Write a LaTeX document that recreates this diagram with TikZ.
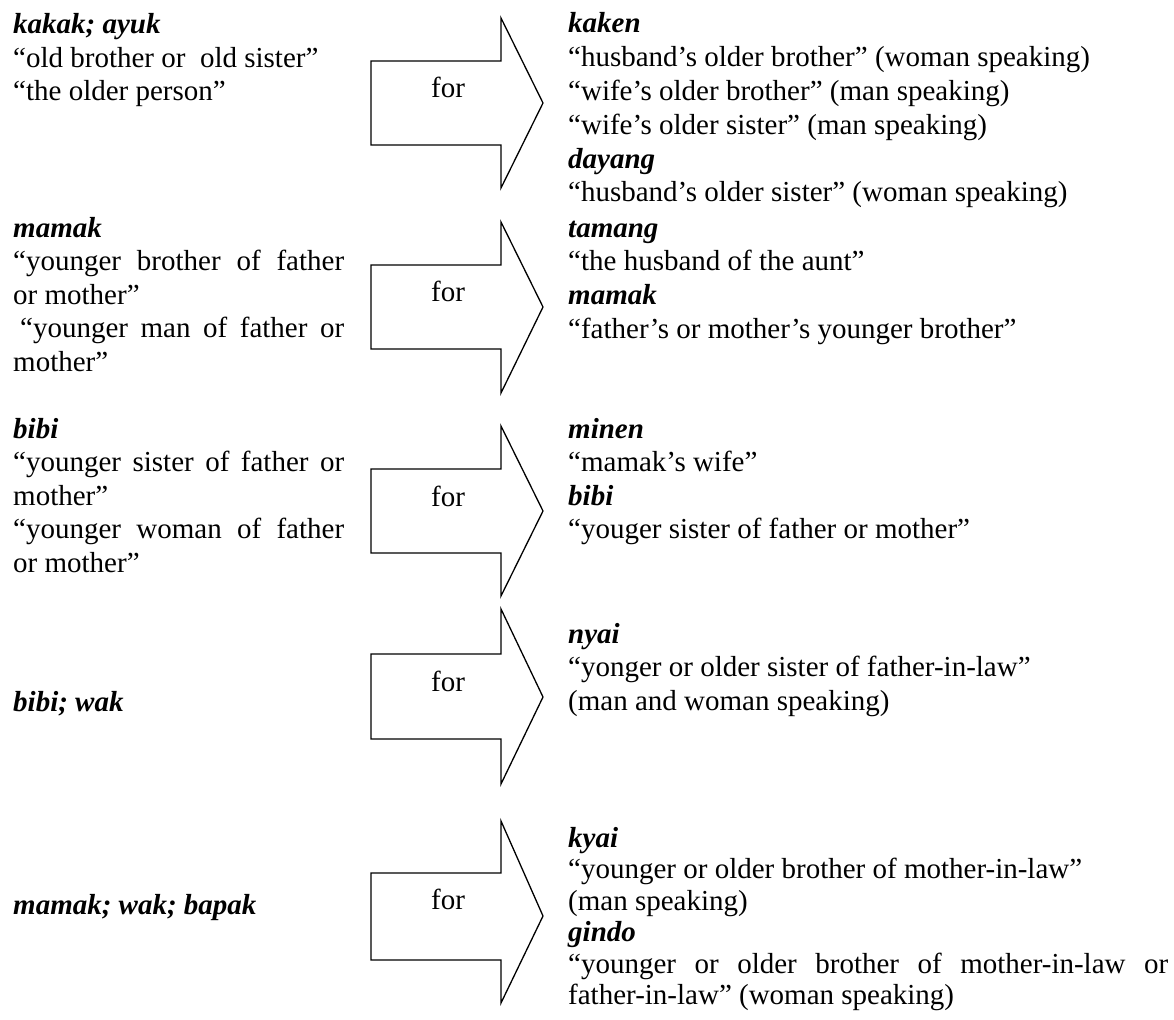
\documentclass[tikz,border=0pt]{standalone}
\usepackage{fontspec}
\setmainfont{Liberation Serif}
\newcommand\bi[1]{\textbf{\textit{#1}}}
\newcommand\J[1]{\makebox[331pt][s]{#1}}
\newcommand\JR[1]{\makebox[600pt][s]{#1}}
% shaft top, shaft bottom, head top, head bottom, tip y
\newcommand\forshape[5]{%
  \draw[arr] (371,#1) -- (501,#1) -- (501,#3) -- (543,#5) -- (501,#4) -- (501,#2) -- (371,#2) -- cycle;}
\begin{document}
\begin{tikzpicture}[x=1pt,y=-1pt,
  txt/.style={anchor=base west, inner sep=0pt, font=\fontsize{29}{33.5}\selectfont},
  forlbl/.style={anchor=center, inner sep=0pt, font=\fontsize{29}{33.5}\selectfont},
  arr/.style={draw=black, line width=1.3pt, line join=miter}]
\useasboundingbox (0,0) rectangle (1174,1019);

% arrows
\forshape{61}{145}{18}{188}{103}
\forshape{265}{349}{222}{393}{307}
\forshape{469}{553}{426}{596}{511}
\forshape{654}{739}{609}{784}{697}
\forshape{873}{960}{821}{1003}{916}

\node[forlbl] (f1) at (448,87) {for};
\node[forlbl] (f2) at (448,291) {for};
\node[forlbl] (f3) at (448,496) {for};
\node[forlbl] (f4) at (448,681) {for};
\node[forlbl] (f5) at (448,899) {for};

% left column
\node[txt] (l1) at (13,34) {\vtop{\baselineskip=33.5pt
  \hbox{\bi{kakak; ayuk}}
  \hbox{“old brother or\ \ old sister”}
  \hbox{“the older person”}}};
\node[txt] (l2) at (13,237) {\vtop{\baselineskip=33.5pt
  \hbox{\bi{mamak}}
  \hbox{\J{“younger brother of father}}
  \hbox{or mother”}
  \hbox{\J{\kern7pt“younger man of father or}}
  \hbox{mother”}}};
\node[txt] (l3) at (13,438) {\vtop{\baselineskip=33.5pt
  \hbox{\bi{bibi}}
  \hbox{\J{“younger sister of father or}}
  \hbox{mother”}
  \hbox{\J{“younger woman of father}}
  \hbox{or mother”}}};
\node[txt] (l4) at (13,711) {\bi{bibi; wak}};
\node[txt] (l5) at (13,914) {\bi{mamak; wak; bapak}};

% right column
\node[txt] (r1) at (568,33) {\vtop{\baselineskip=33.8pt
  \hbox{\bi{kaken}}
  \hbox{“husband’s older brother” (woman speaking)}
  \hbox{“wife’s older brother” (man speaking)}
  \hbox{“wife’s older sister” (man speaking)}
  \hbox{\bi{dayang}}
  \hbox{“husband’s older sister” (woman speaking)}}};
\node[txt] (r2) at (568,237) {\vtop{\baselineskip=33.8pt
  \hbox{\bi{tamang}}
  \hbox{“the husband of the aunt”}
  \hbox{\bi{mamak}}
  \hbox{“father’s or mother’s younger brother”}}};
\node[txt] (r3) at (568,438) {\vtop{\baselineskip=33.5pt
  \hbox{\bi{minen}}
  \hbox{“mamak’s wife”}
  \hbox{\bi{bibi}}
  \hbox{“youger sister of father or mother”}}};
\node[txt] (r4) at (568,643) {\vtop{\baselineskip=33.5pt
  \hbox{\bi{nyai}}
  \hbox{“yonger or older sister of father-in-law”}
  \hbox{(man and woman speaking)}}};
\node[txt] (r5) at (568,847) {\vtop{\baselineskip=31.5pt
  \hbox{\bi{kyai}}
  \hbox{“younger or older brother of mother-in-law”}
  \hbox{(man speaking)}
  \hbox{\bi{gindo}}
  \hbox{\JR{“younger or older brother of mother-in-law or}}
  \hbox{father-in-law” (woman speaking)}}};
\end{tikzpicture}
\end{document}
